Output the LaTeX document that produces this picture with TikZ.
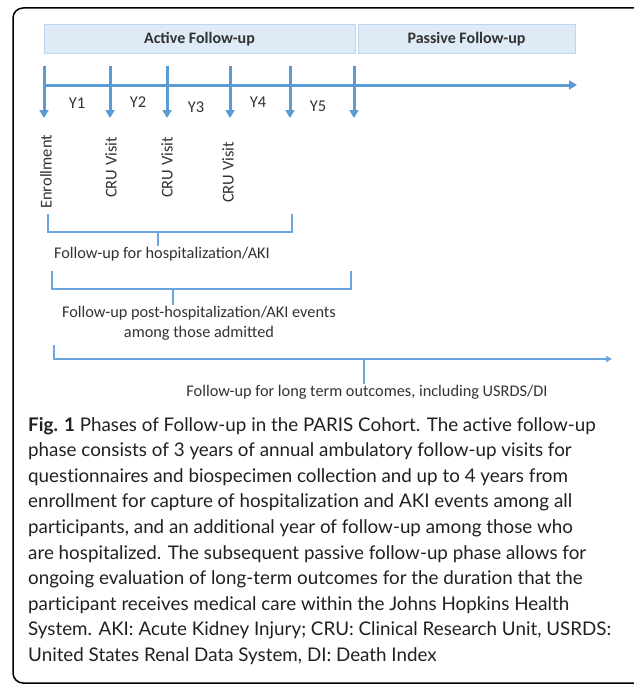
\documentclass[tikz,border=0pt]{standalone}
\usepackage{fontspec}
\setmainfont{Lato}[Ligatures=NoCommon]
\newfontfamily\calfont{Carlito}
\usepackage{tikz}
\usetikzlibrary{arrows.meta,positioning}
\definecolor{pblue}{RGB}{91,155,213}
\definecolor{pline}{RGB}{108,166,222}
\definecolor{plight}{RGB}{222,235,247}
\definecolor{pedge}{RGB}{189,215,238}
\definecolor{pgray}{RGB}{50,50,50}
\definecolor{ptext}{RGB}{35,31,32}
\tikzset{
  phase/.style ={rectangle, draw=pedge, fill=plight, line width=1pt, inner sep=0pt,
                 minimum height=29pt, text=pgray,
                 font=\calfont\bfseries\fontsize{16}{19}\selectfont},
  yr/.style    ={inner sep=1pt, text=pgray, font=\calfont\fontsize{16.5}{19}\selectfont},
  vis/.style   ={yr, rotate=90, anchor=west},
  lbl/.style   ={inner sep=1pt, text=pgray, align=center,
                 font=\calfont\fontsize{16.3}{20}\selectfont},
  tickar/.style={-{Triangle[length=8pt,width=9pt]}, draw=pblue, line width=3pt},
  brk/.style   ={draw=pline, line width=1.3pt},
  thinar/.style={brk, -{Triangle[length=6pt,width=6pt]}}
}

\begin{document}
\begin{tikzpicture}[x=1pt,y=-1pt]
\useasboundingbox (0,0) rectangle (634,685);
\draw[line width=1.5pt, rounded corners=10pt] (13,8) rectangle (680,683);

\node[phase, minimum width=311pt] (active)  at (199.5,39.5) {Active Follow-up};
\node[phase, minimum width=217pt] (passive) at (466.5,39.5) {Passive Follow-up};

% time axis and yearly marks
\coordinate (ax0) at (44,85);
\coordinate (ax1) at (577,85);
\draw[tickar] (ax0) -- (ax1);
\coordinate (k0) at (44,66);  \coordinate (k0b) at (44,118);
\coordinate (k1) at (110,66); \coordinate (k1b) at (110,118);
\coordinate (k2) at (167,66); \coordinate (k2b) at (167,118);
\coordinate (k3) at (230,66); \coordinate (k3b) at (230,118);
\coordinate (k4) at (290,66); \coordinate (k4b) at (290,118);
\coordinate (k5) at (354,66); \coordinate (k5b) at (354,118);
\draw[tickar] (k0) -- (k0b);
\draw[tickar] (k1) -- (k1b);
\draw[tickar] (k2) -- (k2b);
\draw[tickar] (k3) -- (k3b);
\draw[tickar] (k4) -- (k4b);
\draw[tickar] (k5) -- (k5b);

\node[yr] (y1) at (77,103)  {Y1};
\node[yr] (y2) at (138,102) {Y2};
\node[yr] (y3) at (196,107) {Y3};
\node[yr] (y4) at (258,102) {Y4};
\node[yr] (y5) at (318,106) {Y5};

\node[vis] (enr)  at (46,210)  {Enrollment};
\node[vis] (cru1) at (111,199) {CRU Visit};
\node[vis] (cru2) at (167,199) {CRU Visit};
\node[vis] (cru3) at (228,204) {CRU Visit};

% follow-up windows
\coordinate (h1a) at (48,214);  \coordinate (h1d) at (292,214);
\coordinate (h1c) at (158,232);
\node[lbl] (hosp) at (162,254) {Follow-up for hospitalization/AKI};
\draw[brk] (h1a) -- ++(0,18) -| (h1d);
\draw[brk] (h1c) -- (h1c |- hosp.north);

\coordinate (h2a) at (52,271);  \coordinate (h2d) at (351,271);
\coordinate (h2c) at (173,289);
\node[lbl] (post) at (199,323) {Follow-up post-hospitalization/AKI events\\among those admitted};
\draw[brk] (h2a) -- ++(0,18) -| (h2d);
\draw[brk] (h2c) -- (h2c |- post.north);

\coordinate (h3a) at (54,345);  \coordinate (h3d) at (612,359);
\coordinate (h3c) at (364,359);
\node[lbl] (long) at (367,392) {Follow-up for long term outcomes, including USRDS/DI};
\draw[thinar] (h3a) |- (h3d);
\draw[brk] (h3c) -- (h3c |- long.north);

\node[anchor=north west, inner sep=0pt, align=left, text=ptext,
      font=\fontsize{18.8}{25.6}\selectfont] (cap) at (28,417)
  {\textbf{Fig. 1} Phases of Follow-up in the PARIS Cohort. The active follow-up\\
   phase consists of 3 years of annual ambulatory follow-up visits for\\
   questionnaires and biospecimen collection and up to 4 years from\\
   enrollment for capture of hospitalization and AKI events among all\\
   participants, and an additional year of follow-up among those who\\
   are hospitalized. The subsequent passive follow-up phase allows for\\
   ongoing evaluation of long-term outcomes for the duration that the\\
   participant receives medical care within the Johns Hopkins Health\\
   System. AKI: Acute Kidney Injury; CRU: Clinical Research Unit, USRDS:\\
   United States Renal Data System, DI: Death Index};
\end{tikzpicture}
\end{document}
